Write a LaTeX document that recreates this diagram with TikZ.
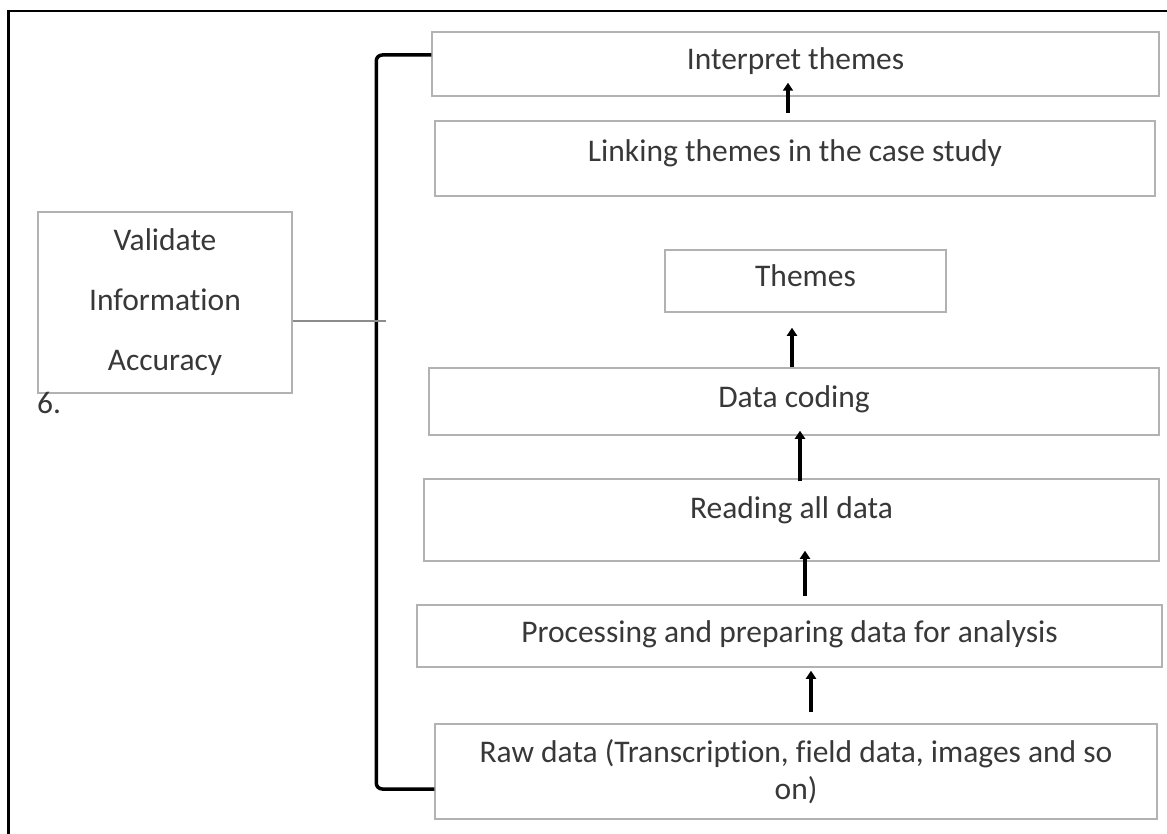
\documentclass[tikz,border=0pt]{standalone}
\usepackage{fontspec}
\setmainfont{Carlito}[Ligatures=NoCommon]
\usepackage{tikz}
\usetikzlibrary{positioning,calc,arrows.meta}

\begin{document}
\begin{tikzpicture}[x=1pt, y=-1pt,
    box/.style={draw=black!30, line width=1.5pt, inner sep=0pt, text=black!78,
        font=\fontsize{31.5}{37}\selectfont, align=center, text height=21pt, text depth=9pt},
    arr/.style={-{Triangle[length=8pt, width=10pt]}, line width=4.5pt},
    bracket/.style={line width=3.5pt, rounded corners=6pt},
    link/.style={draw=black!45, line width=2.5pt}]
    \useasboundingbox (0,0) rectangle (1167,834);

    % Frame
    \draw[line width=2.5pt] (1175,11) -- (8.5,11) -- (8.5,845);

    % Steps
    \node[box, minimum width=727pt, minimum height=64pt] (interp) at (795.5,64) {Interpret themes};
    \node[box, minimum width=720pt, minimum height=75pt, text depth=14pt] (linking) at (795,158.5) {Linking themes in the case study};
    \node[box, minimum width=281pt, minimum height=62pt] (themes) at (805.5,281) {Themes};
    \node[box, minimum width=730pt, minimum height=67pt] (coding) at (794,401.5) {Data coding};
    \node[box, minimum width=735pt, minimum height=82pt, text depth=25pt] (reading) at (791.5,520) {Reading all data};
    \node[box, minimum width=745pt, minimum height=62pt] (proc) at (789.5,636) {Processing and preparing data for analysis};
    \node[box, minimum width=722pt, minimum height=95pt, text height=, text depth=] (raw) at (796,771.5) {Raw data (Transcription, field data, images and so\\ on)};

    % Validation
    \node[box, minimum width=254pt, minimum height=181pt, text height=, text depth=, font=\fontsize{31.5}{60}\selectfont] (valid) at (165,302.5) {Validate\\ Information\\ Accuracy};
    \node[text=black!78, font=\fontsize{31.5}{37}\selectfont, anchor=base west, inner sep=0pt] (six) at (37,413) {6.};

    % Arrows
    \draw[arr] ([xshift=15pt, yshift=11pt]raw.north) -- ([xshift=21.5pt, yshift=-3pt]proc.south);
    \draw[arr] ([xshift=15.5pt, yshift=8pt]proc.north) -- ([xshift=13.5pt, yshift=11pt]reading.south);
    \draw[arr] ([xshift=8.5pt, yshift=-3pt]reading.north) -- ([xshift=6pt, yshift=5pt]coding.south);
    \draw[arr] ([xshift=-2pt]coding.north) -- ([xshift=-13.5pt, yshift=-15pt]themes.south);
    \draw[arr] ([xshift=-7pt, yshift=7pt]linking.north) -- ([xshift=-7.5pt, yshift=14pt]interp.south);

    % Bracket
    \draw[bracket] ([yshift=9pt]interp.west) -- ++(-55,0) |- ([yshift=-17.5pt]raw.west);
    \coordinate (brk) at (386,321);
    \draw[link] (valid.east |- brk) -- (brk);
\end{tikzpicture}
\end{document}
